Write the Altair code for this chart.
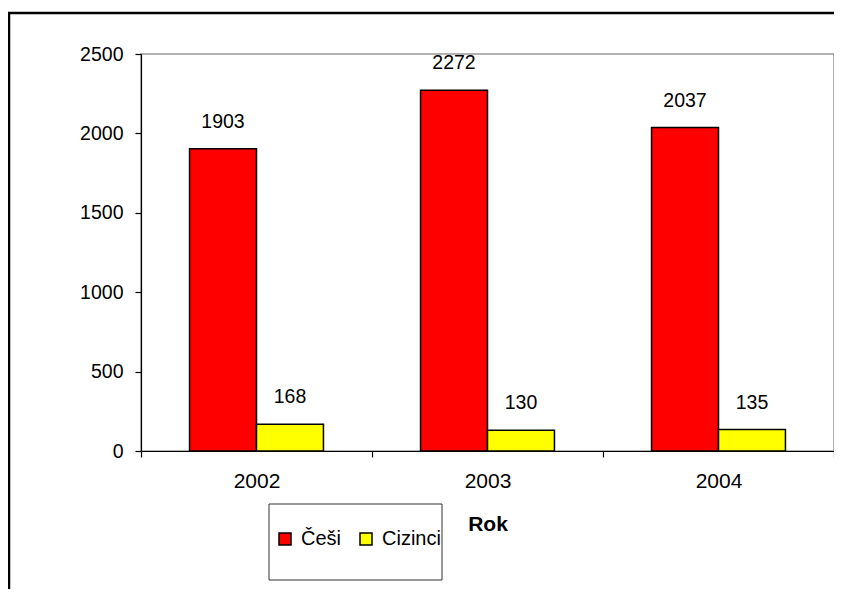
import altair as alt
import pandas as pd

years = ["2002", "2003", "2004"]
series = ["Češi", "Cizinci"]
cesi = [1903, 2272, 2037]
cizinci = [168, 130, 135]
colors = ["#FF0000", "#FFFF00"]

rows = []
for i, y in enumerate(years):
    rows.append({"Rok": y, "Skupina": series[0], "Hodnota": cesi[i]})
    rows.append({"Rok": y, "Skupina": series[1], "Hodnota": cizinci[i]})
df = pd.DataFrame(rows)

FONT = "Arial, Liberation Sans, sans-serif"

x_enc = alt.X("Rok:N", sort=years,
              scale=alt.Scale(paddingInner=0, paddingOuter=0),
              axis=alt.Axis(title="Rok", labelAngle=0, tickBand="extent",
                            tickSize=6, labelPadding=13, titleFontWeight="bold",
                            titleY=79, titleBaseline="alphabetic",
                            labelFont=FONT, titleFont=FONT, labelFontSize=21,
                            titleFontSize=21, domainColor="black", tickColor="black",
                            labelColor="black", titleColor="black"))
xoff = alt.XOffset("Skupina:N", sort=series,
                   scale=alt.Scale(paddingInner=0, paddingOuter=0.725))
y_enc = alt.Y("Hodnota:Q", scale=alt.Scale(domain=[0, 2500], nice=False),
              axis=alt.Axis(title=None, values=[0, 500, 1000, 1500, 2000, 2500],
                            format="d", tickSize=6, labelPadding=12, grid=False,
                            labelFont=FONT, labelFontSize=19.5, domainColor="black",
                            tickColor="black", labelColor="black"))

bars = alt.Chart(df).mark_bar(stroke="black", strokeWidth=1.5).encode(
    x=x_enc, xOffset=xoff, y=y_enc,
    color=alt.Color("Skupina:N", sort=series,
                    scale=alt.Scale(domain=series, range=colors),
                    legend=alt.Legend(title=None, orient="none", direction="horizontal",
                                      legendX=134, legendY=475, padding=0,
                                      symbolType="square", symbolSize=144,
                                      symbolStrokeColor="black", symbolStrokeWidth=1.5,
                                      labelFontSize=20, labelFont=FONT, labelOffset=6,
                                      columnPadding=14, labelColor="black")),
)

labels = alt.Chart(df).mark_text(baseline="alphabetic", dy=-21, fontSize=19.5,
                                 font=FONT, color="black").encode(
    x=alt.X("Rok:N", sort=years), xOffset=alt.XOffset("Skupina:N", sort=series),
    y="Hodnota:Q", text="Hodnota:Q",
)

frame = alt.Chart(alt.Data(values=[{"a": 1}])).mark_rect(
    fill="transparent", stroke="black", strokeWidth=2.5).encode(
    x=alt.value(-132), x2=alt.value(720), y=alt.value(-41), y2=alt.value(560))

legbox = alt.Chart(alt.Data(values=[{"a": 1}])).mark_rect(
    fill="transparent", stroke="#333333", strokeWidth=1).encode(
    x=alt.value(128), x2=alt.value(301), y=alt.value(450), y2=alt.value(526))

chart = alt.layer(frame, legbox, bars, labels).properties(
    width=693, height=397,
    background="white",
    autosize=alt.AutoSizeParams(type="none"),
    padding={"left": 133, "top": 46, "right": 0, "bottom": 138},
).configure_view(stroke="#999999", strokeWidth=1.5).configure_axis(
    domainColor="black", tickColor="black", labelColor="black", titleColor="black",
    labelFont=FONT, titleFont=FONT,
    domainWidth=1.2, tickWidth=1.2,
)

chart.save("out.html", embed_options={"renderer": "svg", "actions": False})
